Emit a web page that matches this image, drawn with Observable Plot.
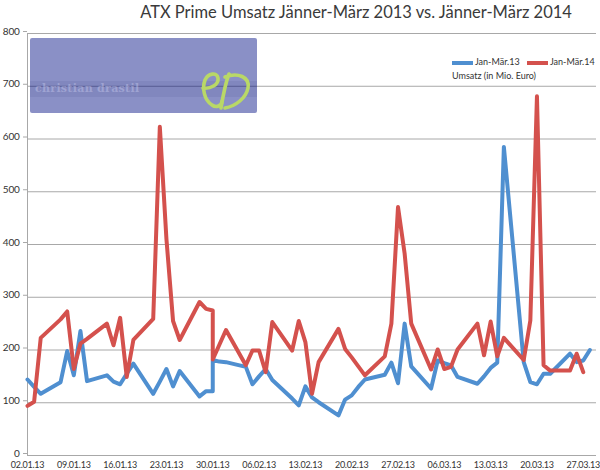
<!DOCTYPE html>
<html><head><meta charset="utf-8">
<script src="https://cdn.jsdelivr.net/npm/d3@7"></script>
<script src="https://cdn.jsdelivr.net/npm/@observablehq/plot@0.6"></script>
<style>
body{margin:0;background:#fff;}
#wrap{position:relative;width:600px;height:470px;font-family:Lato,"Open Sans",sans-serif;color:#333;overflow:hidden;}
#wrap svg text{letter-spacing:-0.25px;}
#title{position:absolute;left:356px;top:2px;transform:translateX(-50%);white-space:nowrap;font-size:16.5px;color:#3a3a3a;}
#logo{position:absolute;left:30px;top:38px;width:227px;height:75px;background:rgba(0,12,131,0.46);border-radius:2px;}
#band{position:absolute;left:30px;top:81px;width:227px;height:16px;background:rgba(0,0,60,0.06);}
#logotext{position:absolute;left:35px;top:82px;font-family:"DejaVu Serif",serif;font-weight:bold;font-size:11px;color:rgba(190,192,230,0.5);letter-spacing:0.3px;}
#cd{position:absolute;left:198px;top:68px;}
.leg{position:absolute;font-size:9px;color:#333;white-space:nowrap;}
.sw{position:absolute;height:4px;}
</style></head>
<body><div id="wrap"></div>
<script>
// ---- data ----
const dates = ["2013-01-02","2013-01-03","2013-01-04","2013-01-07","2013-01-08","2013-01-09","2013-01-10","2013-01-11",
"2013-01-14","2013-01-15","2013-01-16","2013-01-17","2013-01-18","2013-01-21","2013-01-22","2013-01-23","2013-01-24","2013-01-25",
"2013-01-28","2013-01-29","2013-01-30","2013-01-30","2013-01-31","2013-02-01","2013-02-04","2013-02-05","2013-02-06","2013-02-07","2013-02-08",
"2013-02-11","2013-02-12","2013-02-13","2013-02-14","2013-02-15","2013-02-18","2013-02-19","2013-02-20","2013-02-21","2013-02-22",
"2013-02-25","2013-02-26","2013-02-27","2013-02-28","2013-03-01","2013-03-04","2013-03-05","2013-03-06","2013-03-07","2013-03-08",
"2013-03-11","2013-03-12","2013-03-13","2013-03-14","2013-03-15","2013-03-18","2013-03-19","2013-03-20","2013-03-21","2013-03-22",
"2013-03-25","2013-03-26","2013-03-27","2013-03-28"];
const umsatz13 = [144,130,117,139,198,152,236,141,
152,140,135,155,174,117,140,164,131,160,
112,122,122,181,178,177,168,135,150,164,143,
108,95,131,110,101,76,106,114,130,144,
153,176,137,250,169,127,180,175,171,149,
136,150,166,176,585,177,139,135,155,155,
193,177,180,200];
const umsatz14 = [94,102,223,258,273,164,212,221,
250,209,261,149,219,259,623,410,255,219,
291,278,275,182,210,238,171,199,199,158,253,
199,255,215,117,177,240,202,186,169,152,
188,250,471,383,250,163,201,164,168,201,
250,190,254,188,223,181,256,681,171,161,
161,193,158,null];
const seriesNames = ["Jan-Mär.13","Jan-Mär.14"];
const seriesColors = ["#4f8fd0","#d4514d"];
const xTicks = ["2013-01-02","2013-01-09","2013-01-16","2013-01-23","2013-01-30","2013-02-06","2013-02-13",
"2013-02-20","2013-02-27","2013-03-06","2013-03-13","2013-03-20","2013-03-27"];
const yTicks = [0,100,200,300,400,500,600,700,800];
const titleText = "ATX Prime Umsatz Jänner-März 2013 vs. Jänner-März 2014";
const unitText = "Umsatz (in Mio. Euro)";

// ---- build ----
const parse = d3.utcParse("%Y-%m-%d");
const rows = [];
[umsatz13, umsatz14].forEach((vals, s) => {
  dates.forEach((d, i) => rows.push({date: parse(d), value: vals[i], series: seriesNames[s]}));
});

const chart = Plot.plot({
  width: 600, height: 470,
  marginLeft: 27, marginRight: 4, marginTop: 33, marginBottom: 15,
  style: {fontFamily: "Lato, 'Open Sans', sans-serif", color: "#333", background: "#fff"},
  x: {type: "utc", domain: [parse("2013-01-02"), parse("2013-03-29")], label: null},
  y: {domain: [0, 800], label: null},
  color: {domain: seriesNames, range: seriesColors},
  marks: [
    Plot.gridY(yTicks, {stroke: "#a8a8a8", strokeOpacity: 1}),
    Plot.ruleX([parse("2013-01-02")], {stroke: "#a8a8a8"}),
    Plot.axisY(yTicks, {label: null, tickSize: 4, tickPadding: 4, fontSize: 10, dy: -2, stroke: "#a8a8a8", fill: "#333"}),
    Plot.axisX(xTicks.map(parse), {label: null, tickFormat: d3.utcFormat("%d.%m.%y"), tickSize: 0, tickPadding: 6, fontSize: 9, fill: "#333"}),
    Plot.line(rows, {x: "date", y: "value", z: "series", stroke: "series", strokeWidth: 4, strokeLinejoin: "round", strokeLinecap: "round"})
  ]
});

const wrap = document.getElementById("wrap");
wrap.appendChild(chart);

function add(html){ wrap.insertAdjacentHTML("beforeend", html); }
add(`<div id="title">${titleText}</div>`);
add(`<div id="logo"></div><div id="band"></div><div id="logotext">christian drastil</div>`);
add(`<svg id="cd" width="58" height="46" viewBox="0 0 58 46"><g fill="none" stroke="#b9d867" stroke-width="3.6" stroke-linecap="round" stroke-linejoin="round">
<path d="M5 20 C12 21 21 17 20 10 C19 4 10 5 7 12 C4 20 6 32 14 37 C18 40 24 38 24 33"/>
<path d="M31 6 C27 16 25 28 23 40 M27 9 C40 4 52 9 50 20 C48 30 38 38 27 40"/>
</g></svg>`);
// legend
add(`<div class="sw" style="left:452px;top:61px;width:21px;background:${seriesColors[0]}"></div>`);
add(`<div class="leg" style="left:475px;top:56px">${seriesNames[0]}</div>`);
add(`<div class="sw" style="left:527px;top:61px;width:21px;background:${seriesColors[1]}"></div>`);
add(`<div class="leg" style="left:550px;top:56px">${seriesNames[1]}</div>`);
add(`<div class="leg" style="left:452px;top:70px">${unitText}</div>`);
</script>
</body></html>
